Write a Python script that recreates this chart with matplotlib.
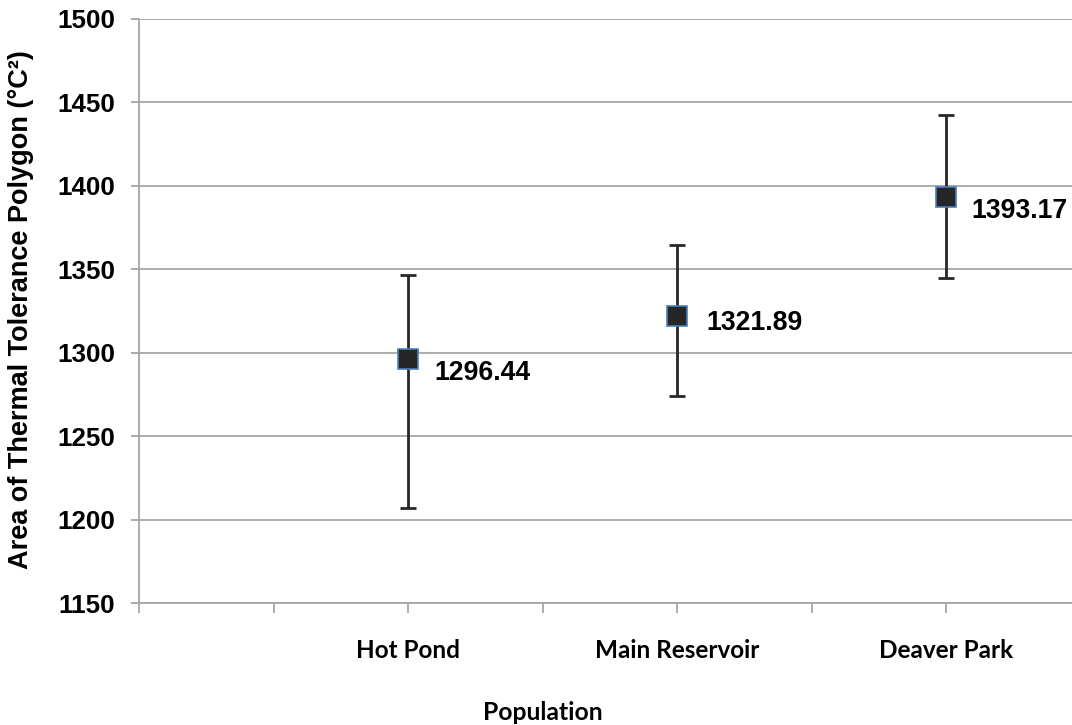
import matplotlib
matplotlib.use("Agg")
import matplotlib.pyplot as plt
import numpy as np

# Data
categories = ["Hot Pond", "Main Reservoir", "Deaver Park"]
means = [1296.44, 1321.89, 1393.17]
upper = [1346.5, 1364.7, 1442.2]
lower = [1207.2, 1274.3, 1344.6]
value_labels = ["1296.44", "1321.89", "1393.17"]
y_ticks = [1150, 1200, 1250, 1300, 1350, 1400, 1450, 1500]

positions = [2, 4, 6]

plt.rcParams['font.family'] = ['Liberation Sans', 'DejaVu Sans']

fig = plt.figure(figsize=(10.72, 7.25), dpi=100)
W, H = 1072, 725
left_px, right_px, top_px, bottom_px = 139, 1072, 19, 603.3
ax = fig.add_axes([left_px / W, 1 - bottom_px / H, (right_px - left_px) / W, (bottom_px - top_px) / H])

grid_c = '#a6a6a6'
ax.set_ylim(1150, 1500)
ax.set_xlim(0, (right_px - left_px) / 134.5)
ax.set_yticks(y_ticks)
ax.yaxis.grid(True, color=grid_c, linewidth=1.3)
ax.set_axisbelow(True)
for s in ['top', 'right']:
    ax.spines[s].set_visible(False)
for s in ['left', 'bottom']:
    ax.spines[s].set_color(grid_c)
    ax.spines[s].set_linewidth(1.3)

ax.tick_params(axis='y', direction='out', length=6, width=1.3, color=grid_c, pad=11,
               labelsize=18.7, labelcolor='black')
for lbl in ax.get_yticklabels():
    lbl.set_fontweight('bold')

xt = list(range(0, 7))
xl = ["" for _ in xt]
for p, c in zip(positions, categories):
    xl[p] = c
ax.set_xticks(xt)
ax.set_xticklabels(xl)
ax.tick_params(axis='x', direction='out', length=7, width=1.3, color=grid_c, pad=19)
for lbl in ax.get_xticklabels():
    lbl.set_family(['Lato', 'DejaVu Sans'])
    lbl.set_fontweight('bold')
    lbl.set_fontsize(17.5)

means_a = np.array(means)
yerr = np.array([means_a - np.array(lower), np.array(upper) - means_a])
ax.errorbar(positions, means, yerr=yerr, fmt='none', ecolor='#262626', elinewidth=2,
            capsize=6, capthick=2, zorder=3)
ax.plot(positions, means, linestyle='none', marker='s', markersize=14,
        markerfacecolor='#262626', markeredgecolor='#4a7ebb', markeredgewidth=1.2, zorder=4)

offsets = [(26, -14), (29, -7), (25, -14)]
for p, m, t, off in zip(positions, means, value_labels, offsets):
    ax.annotate(t, (p, m), xytext=off, textcoords='offset pixels', ha='left', va='center',
                fontsize=19.2, fontweight='bold', color='black')

ax.set_ylabel("Area of Thermal Tolerance Polygon (°C²)", fontsize=19.5, fontweight='bold')
ax.yaxis.set_label_coords(-0.113, 0.502)

ax.text(3, (bottom_px - 712) / (bottom_px - top_px), "Population", transform=ax.get_xaxis_transform(),
        ha='center', va='center', fontsize=17.8, fontweight='bold', family=['Lato', 'DejaVu Sans'])

fig.savefig("out.png", dpi=100)
